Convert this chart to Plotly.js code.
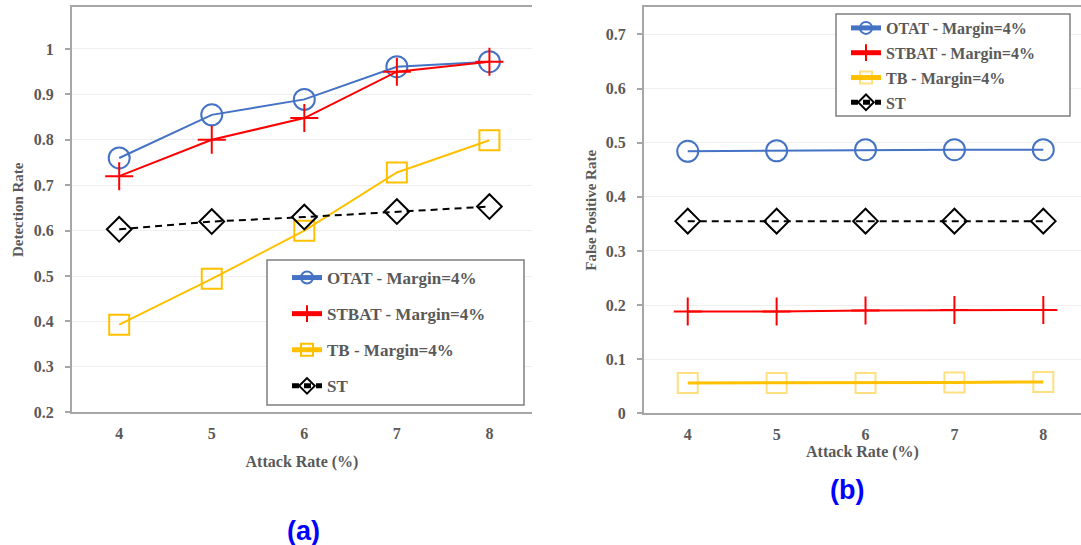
<!DOCTYPE html>
<html>
<head>
<meta charset="utf-8">
<script src="https://cdn.plot.ly/plotly-3.0.1.min.js"></script>
<style>html,body{margin:0;padding:0;background:#fff;}#chart{width:1081px;height:545px;}</style>
</head>
<body>
<div id="chart"></div>
<script>
// ---- data ----
const attackRate = [4, 5, 6, 7, 8];
const seriesNames = ["OTAT - Margin=4%", "STBAT - Margin=4%", "TB - Margin=4%", "ST"];
// (a) Detection Rate
const otatDR  = [0.760, 0.855, 0.889, 0.961, 0.972];
const stbatDR = [0.720, 0.800, 0.848, 0.950, 0.972];
const tbDR    = [0.393, 0.494, 0.600, 0.728, 0.799];
const stDR    = [0.603, 0.620, 0.630, 0.642, 0.653];
// (b) False Positive Rate
const otatFPR  = [0.484, 0.485, 0.487, 0.487, 0.487];
const stbatFPR = [0.188, 0.188, 0.190, 0.191, 0.191];
const tbFPR    = [0.056, 0.056, 0.056, 0.057, 0.058];
const stFPR    = [0.355, 0.355, 0.355, 0.355, 0.355];
const panelLabels = ["(a)", "(b)"];
const xTitle = "Attack Rate (%)";
const yTitleA = "Detection Rate";
const yTitleB = "False Positive Rate";

const W = 1081, H = 545;
const px = v => v / W;
const py = v => 1 - v / H;

const serif = "'Liberation Serif', 'Times New Roman', serif";
const txtCol = "#595959";
const styles = [
  {color: "#4472C4", symbol: "circle-open", size: 21, dash: "solid"},
  {color: "#FF0000", symbol: "cross-thin-open", size: 20, dash: "solid"},
  {color: "#FFC000", symbol: "square-open", size: 20, dash: "solid"},
  {color: "#000000", symbol: "diamond-open", size: 19, dash: "7px,5px"}
];

function mk(i, y, xa, ya, leg, mop) {
  const s = styles[i];
  return {
    x: attackRate, y: y, type: "scatter", mode: "lines+markers",
    name: seriesNames[i], xaxis: xa, yaxis: ya, legend: leg,
    legendgroup: leg + i,
    line: {color: s.color, width: 2, dash: s.dash},
    marker: {symbol: s.symbol, size: s.size, color: s.color, opacity: mop || 1,
             line: {color: s.color, width: 2}},
    hoverinfo: "x+y"
  };
}

const traces = [
  mk(0, otatDR, "x", "y", "legend"),
  mk(1, stbatDR, "x", "y", "legend"),
  mk(2, tbDR, "x", "y", "legend"),
  mk(3, stDR, "x", "y", "legend"),
  mk(0, otatFPR, "x2", "y2", "legend2"),
  mk(1, stbatFPR, "x2", "y2", "legend2"),
  mk(2, tbFPR, "x2", "y2", "legend2", 0.5),
  mk(3, stFPR, "x2", "y2", "legend2")
];
traces[6].line.width = 3;

const tickFont = {family: serif, size: 16, color: txtCol, weight: "bold"};
const xTitleFont = {family: serif, size: 16, color: txtCol, weight: "bold"};
const yTitleFont = {family: serif, size: 15, color: txtCol, weight: "bold"};

function xax(dom, rng, anchor, standoff) {
  return {domain: dom, range: rng, anchor: anchor, tickvals: attackRate, ticks: "",
          showgrid: false, zeroline: false, showline: true, mirror: true,
          linecolor: "#a6a6a6", linewidth: 2, tickfont: tickFont,
          ticklabelstandoff: 5,
          title: {text: xTitle, font: xTitleFont, standoff: standoff}};
}
function yax(dom, rng, anchor, dtick, title, standoff) {
  return {domain: dom, range: rng, anchor: anchor, dtick: dtick, tick0: 0,
          ticks: "outside", ticklen: 5, tickwidth: 2, tickcolor: "#a6a6a6",
          showgrid: true, gridcolor: "#efefef", gridwidth: 1, zeroline: false,
          showline: true, linecolor: "#a6a6a6", linewidth: 2, tickfont: tickFont,
          ticklabelstandoff: 8,
          title: {text: title, font: yTitleFont, standoff: standoff}};
}

const legFontA = {family: serif, size: 17, color: txtCol, weight: "bold"};
const legFontB = {family: serif, size: 16, color: txtCol, weight: "bold"};

const layout = {
  width: W, height: H,
  margin: {l: 0, r: 0, t: 0, b: 0},
  paper_bgcolor: "#fff", plot_bgcolor: "#fff",
  showlegend: true,
  xaxis: xax([px(72), px(532)], [3.49, 8.46], "y", 15),
  yaxis: yax([1 - 412.3 / H, 1 - 7.3 / H], [0.2, 1.0918], "x", 0.1, yTitleA, 7),
  xaxis2: xax([px(644), 1], [3.508, 8.424], "y2", 4),
  yaxis2: yax([1 - 413.3 / H, 1 - 7.3 / H], [0, 0.75], "x2", 0.1, yTitleB, 6),
  legend: {x: px(287), y: py(260), xanchor: "left", yanchor: "top",
           bgcolor: "rgba(0,0,0,0)", borderwidth: 0, font: legFontA,
           itemwidth: 30, itemsizing: "constant", tracegroupgap: 11, traceorder: "grouped"},
  legend2: {x: px(846), y: py(11), xanchor: "left", yanchor: "top",
            bgcolor: "rgba(0,0,0,0)", borderwidth: 0, font: legFontB,
            itemwidth: 30, itemsizing: "constant", tracegroupgap: 1, traceorder: "grouped"},
  shapes: [
    {type: "rect", xref: "paper", yref: "paper", x0: px(267), x1: px(524), y0: py(405), y1: py(260),
     line: {color: "#7f7f7f", width: 1.5}, fillcolor: "#fff", layer: "above"},
    {type: "rect", xref: "paper", yref: "paper", x0: px(836), x1: px(1070), y0: py(116), y1: py(14),
     line: {color: "#7f7f7f", width: 1.5}, fillcolor: "#fff", layer: "above"}
  ],
  annotations: [
    {text: panelLabels[0], xref: "paper", yref: "paper", x: px(303), y: py(531), xanchor: "center", yanchor: "middle",
     showarrow: false, font: {family: "'Liberation Sans', Arial, sans-serif", size: 27, color: "#0000FF", weight: "bold"}},
    {text: panelLabels[1], xref: "paper", yref: "paper", x: px(847), y: py(490), xanchor: "center", yanchor: "middle",
     showarrow: false, font: {family: "'Liberation Sans', Arial, sans-serif", size: 27, color: "#0000FF", weight: "bold"}}
  ]
};

Plotly.newPlot("chart", traces, layout, {displayModeBar: false, staticPlot: true});
</script>
</body>
</html>
